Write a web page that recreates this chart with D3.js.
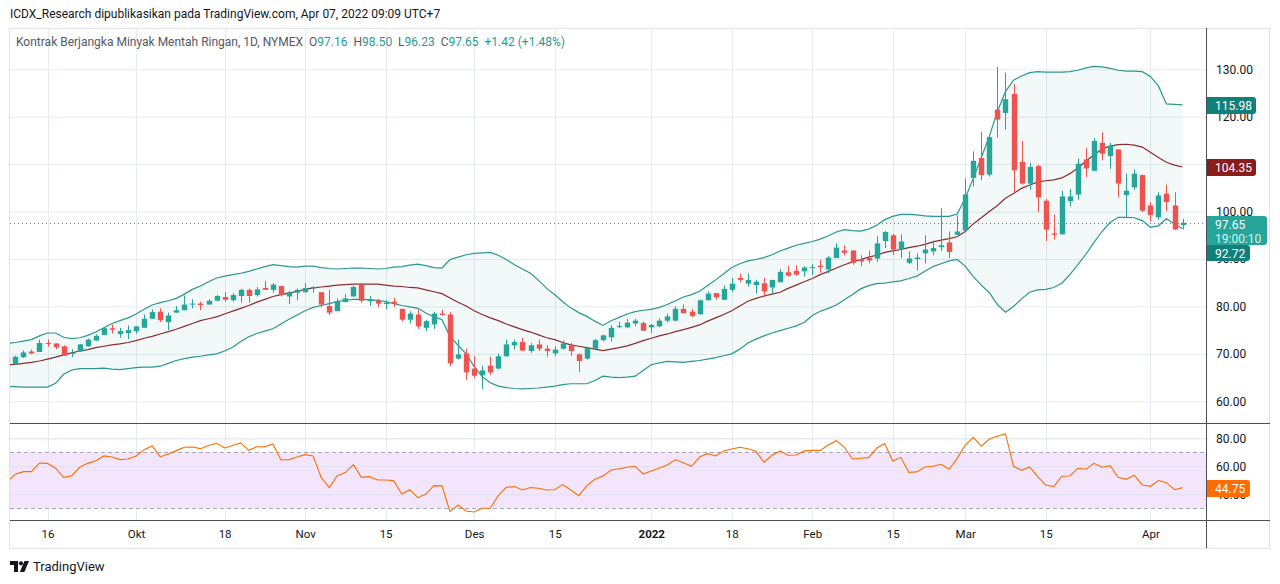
<!DOCTYPE html>
<html lang="id">
<head>
<meta charset="UTF-8">
<title>Kontrak Berjangka Minyak Mentah Ringan, 1D, NYMEX</title>
<script src="https://cdnjs.cloudflare.com/ajax/libs/d3/7.8.5/d3.min.js"></script>
<style>
    body { margin: 0; background: #ffffff; }
    svg { display: block; font-family: Roboto, "Liberation Sans", sans-serif; }
</style>
</head>
<body>
<script>

// daily bars, first one (Sep 9) sits just left of the visible area
var dates = [
    "2021-09-09","2021-09-10","2021-09-13","2021-09-14","2021-09-15","2021-09-16","2021-09-17",
    "2021-09-20","2021-09-21","2021-09-22","2021-09-23","2021-09-24",
    "2021-09-27","2021-09-28","2021-09-29","2021-09-30","2021-10-01",
    "2021-10-04","2021-10-05","2021-10-06","2021-10-07","2021-10-08",
    "2021-10-11","2021-10-12","2021-10-13","2021-10-14","2021-10-15",
    "2021-10-18","2021-10-19","2021-10-20","2021-10-21","2021-10-22",
    "2021-10-25","2021-10-26","2021-10-27","2021-10-28","2021-10-29",
    "2021-11-01","2021-11-02","2021-11-03","2021-11-04","2021-11-05",
    "2021-11-08","2021-11-09","2021-11-10","2021-11-11","2021-11-12",
    "2021-11-15","2021-11-16","2021-11-17","2021-11-18","2021-11-19",
    "2021-11-22","2021-11-23","2021-11-24","2021-11-26",
    "2021-11-29","2021-11-30","2021-12-01","2021-12-02","2021-12-03",
    "2021-12-06","2021-12-07","2021-12-08","2021-12-09","2021-12-10",
    "2021-12-13","2021-12-14","2021-12-15","2021-12-16","2021-12-17",
    "2021-12-20","2021-12-21","2021-12-22","2021-12-23",
    "2021-12-27","2021-12-28","2021-12-29","2021-12-30","2021-12-31",
    "2022-01-03","2022-01-04","2022-01-05","2022-01-06","2022-01-07",
    "2022-01-10","2022-01-11","2022-01-12","2022-01-13","2022-01-14",
    "2022-01-18","2022-01-19","2022-01-20","2022-01-21",
    "2022-01-24","2022-01-25","2022-01-26","2022-01-27","2022-01-28",
    "2022-01-31","2022-02-01","2022-02-02","2022-02-03","2022-02-04",
    "2022-02-07","2022-02-08","2022-02-09","2022-02-10","2022-02-11",
    "2022-02-14","2022-02-15","2022-02-16","2022-02-17","2022-02-18",
    "2022-02-22","2022-02-23","2022-02-24","2022-02-25",
    "2022-02-28","2022-03-01","2022-03-02","2022-03-03","2022-03-04",
    "2022-03-07","2022-03-08","2022-03-09","2022-03-10","2022-03-11",
    "2022-03-14","2022-03-15","2022-03-16","2022-03-17","2022-03-18",
    "2022-03-21","2022-03-22","2022-03-23","2022-03-24","2022-03-25",
    "2022-03-28","2022-03-29","2022-03-30","2022-03-31","2022-04-01",
    "2022-04-04","2022-04-05","2022-04-06","2022-04-07"
];

var openP = [
    69.3, 67.8, 69.3, 70.5, 70.4, 72.3, 72.2, 71.6, 70.0, 70.5, 71.6, 72.8, 74.0, 75.4, 74.2, 74.4, 74.8,
    75.5, 77.4, 78.9, 76.7, 78.7, 79.2, 80.4, 80.6, 80.4, 81.2, 82.0, 81.3, 82.2, 83.5, 82.4,
    83.9, 83.5, 84.3, 82.1, 82.9, 83.0, 83.8, 83.0, 80.1, 79.0, 80.9, 82.1, 84.6, 81.1, 81.2,
    80.5, 81.0, 79.5, 77.2, 78.3, 75.5, 76.2, 78.5, 78.3, 69.0, 70.1, 66.9, 65.5, 67.5,
    66.9, 69.5, 71.8, 72.5, 70.6, 72.0, 71.1, 70.1, 71.1, 71.8, 69.9, 69.0, 71.1, 72.9,
    73.5, 75.7, 75.6, 76.4, 76.5, 75.6, 75.8, 77.0, 77.0, 79.5, 78.9, 78.4, 81.3, 82.8, 81.4,
    83.5, 86.0, 84.8, 84.5, 84.9, 84.0, 85.1, 87.2, 87.5, 87.4, 88.2, 88.6, 87.8, 90.2,
    91.8, 91.8, 90.0, 90.2, 90.1, 93.8, 95.0, 92.0, 89.2, 90.0, 91.2, 91.6, 92.5, 93.5,
    95.1, 96.0, 107.1, 111.3, 107.8, 121.5, 120.8, 124.8, 110.5, 105.9,
    109.6, 102.3, 95.4, 95.2, 102.2, 103.6, 111.0, 108.6, 114.5, 111.7,
    113.1, 103.5, 105.1, 107.7, 101.3, 98.8, 103.8, 101.3, 97.16
];

var highP = [
    69.6, 69.6, 70.7, 70.9, 73.0, 73.0, 72.2, 71.8, 71.0, 72.1, 73.2, 74.1, 75.5, 76.2, 75.5, 76.0, 75.8,
    78.3, 79.4, 79.6, 78.7, 80.1, 82.3, 81.5, 81.0, 81.5, 82.4, 83.0, 82.8, 83.7, 83.8, 84.1,
    85.4, 84.9, 84.3, 83.3, 83.8, 84.9, 84.3, 83.0, 83.5, 81.7, 82.6, 84.4, 84.9, 82.2, 81.6,
    81.3, 81.8, 79.5, 79.0, 79.3, 77.2, 78.9, 79.3, 78.8, 73.0, 71.1, 69.5, 67.5, 69.4,
    70.1, 73.0, 73.0, 73.4, 72.3, 73.0, 71.8, 71.6, 72.8, 72.3, 70.1, 71.5, 73.2, 74.1,
    76.1, 76.8, 77.4, 77.4, 76.8, 76.3, 77.5, 78.5, 80.0, 80.4, 79.5, 81.5, 83.2, 82.8, 84.4,
    86.0, 86.9, 87.0, 85.6, 86.0, 85.6, 87.9, 88.6, 88.7, 88.5, 88.9, 89.8, 90.6, 93.3,
    92.9, 91.8, 90.8, 91.8, 94.8, 95.9, 95.3, 95.2, 91.6, 91.2, 95.0, 93.9, 100.7, 95.8,
    99.2, 107.0, 112.7, 116.7, 115.7, 130.5, 129.3, 126.9, 114.9, 110.3,
    109.9, 102.7, 99.4, 104.4, 104.8, 111.2, 113.4, 115.5, 116.7, 114.5,
    113.1, 108.0, 108.9, 107.8, 102.0, 104.1, 105.7, 104.1, 98.50
];

var lowP = [
    67.6, 67.8, 69.1, 69.9, 70.4, 71.5, 71.0, 69.6, 69.3, 70.5, 71.5, 72.8, 74.0, 74.3, 73.4, 73.1, 74.3,
    75.5, 77.4, 76.7, 75.0, 78.7, 79.2, 79.6, 79.2, 80.4, 81.1, 81.0, 81.0, 80.8, 80.8, 82.1,
    83.5, 82.9, 82.1, 80.5, 81.3, 82.9, 82.9, 79.8, 78.2, 79.0, 80.9, 82.1, 80.8, 80.1, 79.8,
    79.4, 79.9, 76.9, 76.4, 75.3, 74.8, 75.3, 78.1, 67.4, 68.8, 64.5, 64.9, 62.6, 65.6,
    66.7, 69.4, 70.9, 70.6, 70.2, 70.6, 69.4, 69.5, 70.9, 69.6, 66.1, 68.8, 70.9, 72.6,
    72.6, 75.4, 75.4, 75.8, 74.8, 74.4, 75.6, 76.6, 76.8, 78.5, 77.7, 78.2, 81.3, 81.4, 81.4,
    83.0, 85.1, 84.2, 82.7, 82.0, 82.8, 85.1, 86.3, 86.5, 86.3, 86.6, 87.1, 87.0, 90.2,
    90.8, 88.8, 88.5, 89.1, 89.4, 92.3, 90.9, 90.2, 88.9, 87.6, 89.1, 90.8, 91.7, 90.2,
    95.1, 95.9, 105.3, 106.6, 107.4, 115.6, 117.3, 104.1, 105.7, 104.6,
    99.9, 93.8, 94.1, 95.2, 101.1, 102.5, 107.3, 108.5, 110.8, 109.0,
    103.0, 98.8, 104.6, 99.9, 98.0, 98.3, 100.1, 96.1, 96.23
];

var closeP = [
    68.1, 69.4, 70.3, 70.1, 72.3, 72.1, 71.4, 69.6, 70.2, 72.0, 73.0, 73.8, 75.4, 75.1, 74.8, 75.0, 75.8,
    77.4, 78.8, 77.1, 78.1, 79.2, 80.4, 80.6, 80.3, 81.2, 82.2, 81.4, 82.4, 83.5, 82.2, 83.6,
    83.5, 84.6, 82.4, 83.0, 83.5, 83.9, 84.1, 80.4, 78.7, 81.1, 81.7, 84.1, 81.2, 81.5, 80.6,
    80.8, 80.6, 77.2, 78.5, 75.8, 76.9, 78.5, 78.2, 68.0, 69.9, 66.1, 65.4, 66.5, 66.1,
    69.5, 72.0, 72.5, 70.7, 71.8, 71.1, 70.6, 70.9, 72.2, 70.6, 68.5, 71.3, 72.9, 73.9,
    75.5, 75.9, 76.6, 77.0, 74.9, 76.1, 77.0, 77.9, 79.5, 78.6, 78.0, 81.3, 82.7, 81.9, 83.7,
    84.8, 85.6, 85.6, 85.2, 83.2, 85.6, 87.3, 86.5, 86.7, 88.2, 88.3, 88.3, 90.3, 92.4,
    91.3, 89.2, 89.5, 89.7, 93.3, 95.7, 92.0, 93.7, 90.1, 90.3, 92.0, 92.3, 92.9, 91.5,
    95.8, 103.6, 110.7, 107.7, 115.7, 119.4, 123.7, 108.7, 105.9, 109.4,
    103.0, 96.2, 95.1, 103.2, 103.2, 110.1, 109.1, 114.9, 112.2, 113.9,
    105.9, 104.4, 108.0, 100.2, 99.3, 103.4, 102.0, 96.23, 97.65
];

// Bollinger Bands (20, 2)
var bbUpper = [
    72.2, 72.4, 72.7, 73.0, 73.8, 74.4, 74.4, 73.5, 73.2, 73.4, 73.9, 74.6, 75.5, 76.4, 77.0, 77.6, 78.4, 79.4, 80.3, 80.8, 81.2, 81.7, 82.6, 83.6, 84.3, 85.2,
    86.0, 86.4, 86.7, 87.0, 87.4, 87.9, 88.4, 88.8, 88.6, 88.4, 88.3, 88.5, 88.5, 88.2, 88.0, 87.9, 88.0, 88.1, 88.1, 88.0, 87.9, 88.0, 88.3, 88.4, 88.7,
    88.9, 88.6, 88.2, 88.1, 89.9, 90.4, 90.9, 91.2, 91.3, 91.4, 90.8, 89.9, 88.8, 87.9, 87.0, 85.5, 83.8, 82.5, 81.0, 79.7, 78.7, 77.9, 76.9, 76.0,
    77.0, 77.7, 78.4, 78.9, 79.2, 79.4, 79.8, 80.4, 81.2, 82.0, 82.5, 83.2, 84.4, 85.6, 86.9, 88.2, 89.0, 89.6, 89.9, 90.3, 90.9, 91.7, 92.3, 92.9, 93.3,
    93.7, 94.2, 94.9, 95.7, 96.2, 96.0, 95.9, 96.3, 97.1, 98.3, 99.0, 99.4, 99.4, 99.3, 99.1, 99.0, 99.0, 99.0, 99.5, 102.8, 107.0, 111.4, 115.9, 121.1, 125.3,
    127.7, 128.6, 129.3, 129.5, 129.4, 129.4, 129.4, 129.5, 129.8, 130.3, 130.6, 130.5, 130.2, 129.8, 129.6, 129.6, 129.5, 128.5, 126.5, 122.7, 122.6, 122.5
];

var bbBasis = [
    67.7, 67.8, 68.0, 68.2, 68.5, 68.9, 69.3, 69.8, 70.2, 70.6, 70.9, 71.3, 71.6, 71.9, 72.1, 72.4, 72.8, 73.3, 73.7, 74.2, 74.7, 75.2, 75.8, 76.4, 77.0, 77.4,
    77.8, 78.4, 79.0, 79.6, 80.2, 80.9, 81.5, 82.1, 82.5, 82.8, 83.2, 83.6, 83.9, 84.1, 84.3, 84.5, 84.6, 84.7, 84.7, 84.7, 84.7, 84.5, 84.3, 84.2, 84.0,
    83.9, 83.5, 83.1, 82.7, 81.8, 80.9, 80.1, 79.1, 78.3, 77.6, 77.0, 76.3, 75.7, 75.1, 74.6, 74.0, 73.4, 73.0, 72.4, 71.9, 71.6, 71.3, 71.0, 70.7,
    71.0, 71.3, 71.7, 72.2, 72.8, 73.3, 73.8, 74.2, 74.7, 75.1, 75.6, 76.1, 76.9, 77.6, 78.3, 79.1, 80.1, 81.1, 81.7, 82.2, 82.6, 83.0, 83.8, 84.5, 85.2,
    85.9, 86.7, 87.4, 88.1, 88.8, 89.4, 89.9, 90.4, 90.8, 91.4, 91.7, 92.0, 92.4, 92.7, 93.1, 93.6, 94.0, 94.3, 94.7, 95.8, 97.4, 98.7, 100.0, 101.3, 102.8,
    103.8, 104.9, 105.6, 106.2, 106.5, 106.7, 107.1, 108.0, 109.2, 110.6, 112.0, 113.2, 113.8, 114.1, 114.2, 114.0, 113.6, 112.5, 111.4, 110.4, 109.8, 109.4
];

var bbLower = [
    63.1, 63.1, 63.0, 63.0, 63.0, 63.0, 63.8, 65.7, 66.6, 66.9, 66.9, 66.9, 67.0, 66.8, 66.7, 66.9, 67.1, 67.2, 67.2, 67.4, 68.0, 68.6, 69.0, 69.3, 69.5, 69.8,
    70.0, 70.6, 71.4, 72.6, 73.6, 74.3, 74.8, 75.3, 76.3, 77.3, 78.2, 79.1, 79.8, 80.2, 80.6, 81.0, 81.3, 81.5, 81.5, 81.4, 81.3, 81.0, 80.6, 80.2, 79.9,
    79.6, 78.6, 77.8, 77.2, 73.7, 71.8, 70.0, 67.3, 65.2, 63.9, 63.2, 62.9, 62.7, 62.6, 62.7, 62.8, 63.0, 63.2, 63.5, 63.7, 63.7, 63.7, 64.4, 65.3,
    65.1, 65.0, 65.1, 65.3, 66.5, 67.7, 68.1, 68.4, 68.3, 68.2, 68.4, 68.6, 68.9, 69.2, 69.6, 70.0, 71.0, 72.3, 73.1, 73.8, 74.4, 74.9, 75.4, 75.9, 76.6,
    78.1, 79.0, 79.6, 80.3, 81.4, 82.5, 83.7, 84.4, 84.8, 84.9, 85.2, 85.4, 85.9, 86.4, 87.4, 88.4, 89.0, 89.6, 89.9, 88.5, 86.3, 84.5, 82.9, 80.4, 78.8,
    80.0, 81.6, 83.0, 83.5, 83.6, 84.0, 84.9, 86.7, 88.8, 91.0, 93.5, 95.8, 97.7, 98.8, 98.8, 98.7, 98.1, 96.7, 97.0, 98.5, 97.4, 96.4
];

// RSI (14)
var rsiValues = [
    49.0, 54.3, 56.2, 56.2, 62.4, 62.1, 58.6, 52.1, 53.3, 59.3, 62.1, 64.0, 67.4, 66.7, 64.8, 65.2, 67.4, 71.9, 74.5, 66.7, 68.8, 71.2, 73.6, 73.8, 72.6, 74.8,
    76.4, 73.1, 74.8, 76.7, 71.4, 74.0, 74.0, 76.0, 64.5, 64.8, 66.7, 68.3, 67.4, 52.1, 44.8, 53.3, 55.5, 61.2, 52.1, 52.6, 50.2, 50.2, 49.8, 40.2, 43.3,
    37.6, 40.2, 46.2, 46.0, 27.6, 32.4, 28.1, 27.4, 30.0, 30.0, 39.0, 45.0, 45.5, 43.1, 44.8, 44.3, 43.1, 43.3, 46.9, 43.1, 39.0, 46.2, 50.7, 53.1,
    57.4, 58.3, 59.3, 60.0, 54.5, 56.7, 58.8, 61.0, 64.8, 62.6, 60.0, 66.7, 69.0, 67.4, 71.0, 72.4, 73.6, 72.6, 70.7, 62.9, 67.9, 71.0, 67.9, 68.1, 71.0,
    71.4, 71.4, 75.2, 78.3, 73.6, 65.2, 65.7, 66.2, 72.9, 76.2, 63.8, 66.4, 55.7, 56.0, 59.5, 60.0, 61.4, 57.9, 65.7, 75.2, 80.7, 74.3, 79.5, 81.4, 83.3,
    60.0, 57.1, 59.5, 52.6, 46.7, 45.5, 52.9, 53.1, 58.6, 57.9, 62.1, 59.3, 60.5, 52.1, 50.7, 53.6, 46.7, 45.7, 49.8, 48.3, 43.3, 44.75
];

var priceTicks = [60, 70, 80, 90, 100, 110, 120, 130];
var rsiTicks = [40, 60, 80];
var rsiBandLevels = [30, 70];

var timeTickDates = ["2021-09-16", "2021-10-01", "2021-10-18", "2021-11-01", "2021-11-15", "2021-12-01", "2021-12-15",
                     "2022-01-03", "2022-01-18", "2022-02-01", "2022-02-15", "2022-03-01", "2022-03-15", "2022-04-01"];
var timeTickText = ["16", "Okt", "18", "Nov", "15", "Des", "15", "2022", "18", "Feb", "15", "Mar", "15", "Apr"];

// labels shown on the price scale for the indicator lines
var bandLabelText = ["115.98", "104.35", "92.72"];
var lastPriceText = "97.65";
var countdownText = "19:00:10";
var rsiLabelText = "44.75";

var headerText = "ICDX_Research dipublikasikan pada TradingView.com, Apr 07, 2022 09:09 UTC+7";
var titleParts = [
    ["Kontrak Berjangka Minyak Mentah Ringan, 1D, NYMEX", "gray"],
    ["  O", "gray"], ["97.16", "val"],
    ["  H", "gray"], ["98.50", "val"],
    ["  L", "gray"], ["96.23", "val"],
    ["  C", "gray"], ["97.65", "val"],
    ["  +1.42 (+1.48%)", "val"]
];

// ---- layout ----
var width = 1280, height = 584;
var plotLeft = 10, plotRight = 1206, frameRight = 1270;
var priceTop = 28, priceBottom = 423, rsiTop = 424, rsiBottom = 520, frameBottom = 548;

var green = "#26a69a", red = "#ef5350";
var gridColor = "#e6ebf1";
var textColor = "#131722";

var svg = d3.select("body").append("svg")
    .attr("width", width)
    .attr("height", height);

svg.append("rect").attr("width", width).attr("height", height).attr("fill", "#ffffff");

var x = d3.scaleLinear().domain([0, 148]).range([7.25, 7.25 + 8.05 * 148]);
var y = d3.scaleLinear().domain([60, 130]).range([401.3, 69.3]);
var yRsi = d3.scaleLinear().domain([30, 80]).range([508.3, 438.3]);

var idx = dates.map(function (d, i) { return i; });
var tickIdx = timeTickDates.map(function (d) { return dates.indexOf(d); });

var defs = svg.append("defs");
defs.append("clipPath").attr("id", "clipPrice").append("rect")
    .attr("x", plotLeft).attr("y", priceTop)
    .attr("width", plotRight - plotLeft).attr("height", priceBottom - priceTop);
defs.append("clipPath").attr("id", "clipRsi").append("rect")
    .attr("x", plotLeft).attr("y", rsiTop)
    .attr("width", plotRight - plotLeft).attr("height", rsiBottom - rsiTop);

// ---- grid ----
var grid = svg.append("g");

grid.append("g")
    .attr("transform", "translate(" + plotLeft + ",0)")
    .call(d3.axisRight(y).tickValues(priceTicks).tickSize(plotRight - plotLeft).tickFormat(""))
    .call(function (g) { g.select(".domain").remove(); })
    .selectAll("line").attr("stroke", gridColor);

grid.selectAll(".vgrid")
    .data(tickIdx)
    .enter()
    .append("line")
    .attr("class", "vgrid")
    .attr("x1", function (d) { return Math.round(x(d)) + 0.5; })
    .attr("x2", function (d) { return Math.round(x(d)) + 0.5; })
    .attr("y1", priceTop)
    .attr("y2", rsiBottom)
    .attr("stroke", gridColor);

// ---- price pane ----
var pricePane = svg.append("g").attr("clip-path", "url(#clipPrice)");

var bandArea = d3.area()
    .x(function (i) { return x(i); })
    .y0(function (i) { return y(bbLower[i]); })
    .y1(function (i) { return y(bbUpper[i]); });

pricePane.append("path")
    .datum(idx)
    .attr("d", bandArea)
    .attr("fill", "rgba(38,150,140,0.06)");

function bandLine(values) {
    return d3.line()
        .x(function (i) { return x(i); })
        .y(function (i) { return y(values[i]); });
}

pricePane.append("path").datum(idx).attr("d", bandLine(bbUpper))
    .attr("fill", "none").attr("stroke", "#2b978f").attr("stroke-width", 1.2);
pricePane.append("path").datum(idx).attr("d", bandLine(bbLower))
    .attr("fill", "none").attr("stroke", "#2b978f").attr("stroke-width", 1.2);
pricePane.append("path").datum(idx).attr("d", bandLine(bbBasis))
    .attr("fill", "none").attr("stroke", "#8e2c2c").attr("stroke-width", 1.2);

var bodyW = 5.4;

var candles = pricePane.selectAll(".candle")
    .data(idx)
    .enter()
    .append("g")
    .attr("class", "candle");

candles.append("line")
    .attr("x1", function (i) { return Math.round(x(i)) + 0.5; })
    .attr("x2", function (i) { return Math.round(x(i)) + 0.5; })
    .attr("y1", function (i) { return y(highP[i]); })
    .attr("y2", function (i) { return y(lowP[i]); })
    .attr("stroke", function (i) { return closeP[i] >= openP[i] ? green : red; })
    .attr("stroke-width", 1);

candles.append("rect")
    .attr("x", function (i) { return Math.round(x(i)) + 0.5 - bodyW / 2; })
    .attr("width", bodyW)
    .attr("y", function (i) { return y(Math.max(openP[i], closeP[i])); })
    .attr("height", function (i) {
        return Math.max(1, Math.abs(y(openP[i]) - y(closeP[i])));
    })
    .attr("fill", function (i) { return closeP[i] >= openP[i] ? green : red; });

var lastClose = closeP[closeP.length - 1];
pricePane.append("line")
    .attr("x1", plotLeft).attr("x2", plotRight)
    .attr("y1", Math.round(y(lastClose)) + 0.5).attr("y2", Math.round(y(lastClose)) + 0.5)
    .attr("stroke", green)
    .attr("stroke-dasharray", "1,3");

// ---- RSI pane ----
var rsiPane = svg.append("g").attr("clip-path", "url(#clipRsi)");

rsiPane.append("rect")
    .attr("x", plotLeft).attr("width", plotRight - plotLeft)
    .attr("y", yRsi(rsiBandLevels[1])).attr("height", yRsi(rsiBandLevels[0]) - yRsi(rsiBandLevels[1]))
    .attr("fill", "#f3e6fc");

rsiPane.append("g")
    .attr("transform", "translate(" + plotLeft + ",0)")
    .call(d3.axisRight(yRsi).tickValues(rsiTicks).tickSize(plotRight - plotLeft).tickFormat(""))
    .call(function (g) { g.select(".domain").remove(); })
    .selectAll("line").attr("stroke", "#dfe0ef");

rsiPane.selectAll(".rsiband")
    .data(rsiBandLevels)
    .enter()
    .append("line")
    .attr("x1", plotLeft).attr("x2", plotRight)
    .attr("y1", function (d) { return Math.round(yRsi(d)) + 0.5; })
    .attr("y2", function (d) { return Math.round(yRsi(d)) + 0.5; })
    .attr("stroke", "#a8a8b4")
    .attr("stroke-dasharray", "4,3");

rsiPane.append("path")
    .datum(idx)
    .attr("d", d3.line()
        .x(function (i) { return x(i); })
        .y(function (i) { return yRsi(rsiValues[i]); }))
    .attr("fill", "none")
    .attr("stroke", "#ff6d00")
    .attr("stroke-width", 1.1);

// ---- frame ----
var frame = svg.append("g").attr("fill", "none");
frame.append("rect")
    .attr("x", plotLeft - 0.5).attr("y", priceTop + 0.5)
    .attr("width", frameRight - plotLeft).attr("height", frameBottom - priceTop)
    .attr("stroke", "#e0e3eb");
frame.append("line").attr("x1", plotLeft).attr("x2", frameRight)
    .attr("y1", priceBottom + 0.5).attr("y2", priceBottom + 0.5).attr("stroke", "#4a4e59");
frame.append("line").attr("x1", plotLeft).attr("x2", frameRight)
    .attr("y1", rsiBottom + 0.5).attr("y2", rsiBottom + 0.5).attr("stroke", "#4a4e59");
frame.append("line").attr("x1", plotRight + 0.5).attr("x2", plotRight + 0.5)
    .attr("y1", priceTop).attr("y2", frameBottom).attr("stroke", "#4a4e59");

// ---- axes ----
var priceAxis = svg.append("g")
    .attr("transform", "translate(" + plotRight + ",0)")
    .call(d3.axisRight(y).tickValues(priceTicks).tickSize(0).tickPadding(10).tickFormat(d3.format(".2f")));
priceAxis.select(".domain").remove();
priceAxis.selectAll("text").attr("font-size", 12).attr("fill", textColor).attr("font-family", "Roboto, sans-serif");

var rsiAxis = svg.append("g")
    .attr("transform", "translate(" + plotRight + ",0)")
    .call(d3.axisRight(yRsi).tickValues(rsiTicks).tickSize(0).tickPadding(10).tickFormat(d3.format(".2f")));
rsiAxis.select(".domain").remove();
rsiAxis.selectAll("text").attr("font-size", 12).attr("fill", textColor).attr("font-family", "Roboto, sans-serif");

var timeAxis = svg.append("g")
    .attr("transform", "translate(0," + rsiBottom + ")")
    .call(d3.axisBottom(x).tickValues(tickIdx).tickSize(0).tickPadding(10)
        .tickFormat(function (d, i) { return timeTickText[i]; }));
timeAxis.select(".domain").remove();
timeAxis.selectAll("text")
    .attr("font-size", 11.5)
    .attr("fill", textColor)
    .attr("font-family", "Roboto, sans-serif")
    .attr("font-weight", function (d, i) { return timeTickText[i] === "2022" ? "bold" : "normal"; });

// ---- value labels on the price scale ----
function scaleLabel(yTop, h, w, bg, lines, fg2) {
    var g = svg.append("g");
    g.append("path")
        .attr("d", "M" + (plotRight + 1) + "," + yTop + " h" + (w - 3) + " q3,0 3,3 v" + (h - 6) +
            " q0,3 -3,3 h-" + (w - 3) + " z")
        .attr("fill", bg);
    lines.forEach(function (t, k) {
        g.append("text")
            .attr("x", plotRight + 9)
            .attr("y", yTop + 12.5 + k * 14)
            .attr("font-size", 12)
            .attr("font-family", "Roboto, sans-serif")
            .attr("fill", k === 0 ? "#ffffff" : fg2)
            .text(t);
    });
}

var nLast = idx.length - 1;
scaleLabel(Math.round(y(bbUpper[nLast])) - 8, 17, 49, "#12807a", [bandLabelText[0]]);
scaleLabel(Math.round(y(bbBasis[nLast])) - 8, 17, 49, "#8b1c1c", [bandLabelText[1]]);
var priceBoxTop = Math.round(y(lastClose)) - 7;
scaleLabel(priceBoxTop, 29, 60, green, [lastPriceText, countdownText], "#d7f1ec");
scaleLabel(priceBoxTop + 29, 16, 43, "#12807a", [bandLabelText[2]]);
scaleLabel(Math.round(yRsi(rsiValues[nLast])) - 8, 17, 43, "#ff6d00", [rsiLabelText]);

// ---- header ----
svg.append("text")
    .attr("x", 10).attr("y", 18)
    .attr("font-size", 12)
    .attr("fill", textColor)
    .text(headerText);

var title = svg.append("text")
    .attr("x", 16).attr("y", 46)
    .attr("font-size", 12)
    .attr("xml:space", "preserve");
title.selectAll("tspan")
    .data(titleParts)
    .enter()
    .append("tspan")
    .attr("fill", function (d) { return d[1] === "val" ? "#1f9c8f" : "#555963"; })
    .text(function (d) { return d[0]; });

// ---- logo ----
var logo = svg.append("g").attr("fill", textColor);
logo.append("path").attr("d", "M10,561 h8 v11 h-4 v-7 h-4 z");
logo.append("circle").attr("cx", 21).attr("cy", 563.3).attr("r", 2.1);
logo.append("path").attr("d", "M24.5,561 h4.5 l-4.6,11 h-4.5 z");
svg.append("text")
    .attr("x", 33).attr("y", 571)
    .attr("font-size", 13)
    .attr("fill", textColor)
    .text("TradingView");

</script>
</body>
</html>
